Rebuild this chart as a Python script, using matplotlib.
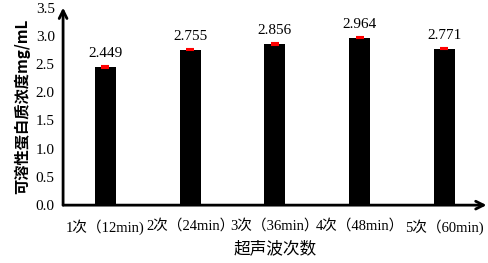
import numpy as np
import matplotlib.pyplot as plt

plt.rcParams['font.family'] = ['Liberation Serif', 'Noto Sans CJK SC']

# data
labels = ['1次（12min)', '2次（24min）', '3次（36min）', '4次（48min）', '5次（60min)']
values = [2.449, 2.755, 2.856, 2.964, 2.771]
errors = [0.01, 0.01, 0.01, 0.01, 0.01]
yticks = [0.0, 0.5, 1.0, 1.5, 2.0, 2.5, 3.0, 3.5]

fig = plt.figure(figsize=(4.89, 2.63), dpi=100)
ax = fig.add_axes([0.129, 0.22, 0.866, 0.751])

x = np.arange(len(values))
ax.bar(x, values, width=0.25, color='black', zorder=2)
ax.errorbar(x, values, yerr=errors, fmt='none', ecolor='red', elinewidth=1.5,
            capsize=3, capthick=1.5, zorder=3)
for xi, v in zip(x, values):
    ax.text(xi, v + 0.12, f'{v:.3f}', ha='center', va='bottom', fontsize=11)

ax.set_xlim(-0.5, 4.5)
ax.set_ylim(0, 3.5)
ax.set_yticks(yticks)
ax.set_yticklabels([f'{t:.1f}' for t in yticks], fontsize=11)
ax.set_xticks(x)
ax.set_xticklabels(labels, fontsize=10.5)
ax.tick_params(length=0, pad=6)
ax.tick_params(axis='x', pad=10)

for s in ax.spines.values():
    s.set_visible(False)
# axis arrows
ax.annotate('', xy=(1.0, 0), xytext=(0, 0), xycoords='axes fraction',
            arrowprops=dict(arrowstyle='->', lw=2, color='black', mutation_scale=14,
                            shrinkA=0, shrinkB=0))
ax.annotate('', xy=(0, 1.0), xytext=(0, 0), xycoords='axes fraction',
            arrowprops=dict(arrowstyle='->', lw=2, color='black', mutation_scale=14,
                            shrinkA=0, shrinkB=0))

ax.set_ylabel('可溶性蛋白质浓度mg/mL', fontsize=11, fontweight='bold',
              family=['Noto Sans CJK SC'], labelpad=4)
ax.set_xlabel('超声波次数', fontsize=12, fontweight='medium', labelpad=5)

fig.savefig('out.png', dpi=100)
